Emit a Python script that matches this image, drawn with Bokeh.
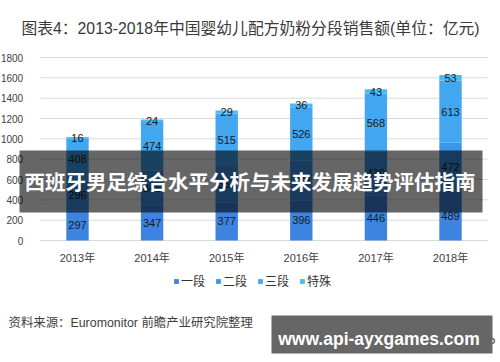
from bokeh.plotting import figure
from bokeh.models import (ColumnDataSource, LabelSet, Label, BoxAnnotation, Legend,
                          LegendItem, Range1d, FixedTicker, LinearAxis)
from bokeh.core.properties import value
from bokeh.embed import file_html
from bokeh.resources import INLINE

years = ["2013年", "2014年", "2015年", "2016年", "2017年", "2018年"]
seg1 = [297, 347, 377, 396, 446, 489]
seg2 = [296, 345, 357, 389, 430, 472]
seg3 = [408, 474, 515, 526, 568, 613]
special = [16, 24, 29, 36, 43, 53]
series_names = ["一段", "二段", "三段", "特殊"]
colors = ["#3C84DF", "#3D95E8", "#42A6F0", "#4DB9F6"]
y_ticks = [0, 200, 400, 600, 800, 1000, 1200, 1400, 1600, 1800]

CJK = "Liberation Sans, Noto Sans CJK SC"
n = len(years)
xs = list(range(n))

src = ColumnDataSource(dict(x=xs, s1=seg1, s2=seg2, s3=seg3, sp=special))

p = figure(width=500, height=362, title=None,
           x_range=Range1d(-1.032, 5.670), y_range=Range1d(-1200, 2360.7),
           x_axis_location=None, y_axis_location=None,
           output_backend="svg", toolbar_location=None, min_border=0)
p.outline_line_color = None
p.xgrid.visible = False
p.ygrid.visible = False

# gridlines spanning the category area
p.segment(x0=[-0.5] * len(y_ticks), x1=[n - 0.5] * len(y_ticks), y0=y_ticks, y1=y_ticks,
          line_color="#d9d9d9", line_width=1)

rs = p.vbar_stack(["s1", "s2", "s3", "sp"], x="x", width=0.3, color=colors,
                  line_color=None, source=src)

# y axis
yax = LinearAxis(ticker=FixedTicker(ticks=y_ticks), fixed_location=-0.5)
yax.axis_line_color = None
yax.major_tick_line_color = None
yax.minor_tick_line_color = None
yax.major_label_text_font = "Liberation Sans"
yax.major_label_text_font_size = "10px"
yax.major_label_text_color = "#404040"
yax.major_label_standoff = 11
p.add_layout(yax, "left")

# x axis
xax = LinearAxis(ticker=FixedTicker(ticks=xs), fixed_location=0,
                 major_label_overrides={i: y for i, y in zip(xs, years)})
xax.axis_line_color = None
xax.major_tick_line_color = None
xax.minor_tick_line_color = None
xax.major_label_text_font = CJK
xax.major_label_text_font_size = "11px"
xax.major_label_text_color = "#404040"
xax.major_label_standoff = 5
p.add_layout(xax, "below")

# data labels at segment centres
lx, ly, lt = [], [], []
for i in xs:
    base = 0
    for arr in (seg1, seg2, seg3, special):
        v = arr[i]
        lx.append(i)
        ly.append(base + v / 2)
        lt.append(str(v))
        base += v
lsrc = ColumnDataSource(dict(x=lx, y=ly, t=lt))
p.add_layout(LabelSet(x="x", y="y", text="t", source=lsrc, text_align="center",
                      text_baseline="middle", text_font_size="11px",
                      text_font=value("Liberation Sans"), text_color="#1a1a1a"))

items = [LegendItem(label=nm, renderers=[r]) for nm, r in zip(series_names, rs)]
leg = Legend(items=items, orientation="horizontal", location=(173, 73),
             glyph_width=6, glyph_height=6, label_standoff=2, spacing=10,
             label_text_font_size="12px", label_text_font=CJK, label_height=12,
             padding=0, margin=0, border_line_color=None, background_fill_alpha=0,
             label_text_color="#333333")
p.add_layout(leg, "center")

p.add_layout(Label(x=250, y=334, x_units="screen", y_units="screen",
                   text="图表4：2013-2018年中国婴幼儿配方奶粉分段销售额(单位：亿元)",
                   text_align="center", text_baseline="middle", text_font=CJK,
                   text_font_size="15.8px", text_color="#3a3a3a"))
p.add_layout(Label(x=8, y=40, x_units="screen", y_units="screen",
                   text="资料来源：Euromonitor 前瞻产业研究院整理",
                   text_align="left", text_baseline="middle", text_font=CJK,
                   text_font_size="12.4px", text_color="#404040"))

p.add_layout(BoxAnnotation(left=19, right=482, bottom=150, top=212,
                           left_units="screen", right_units="screen",
                           bottom_units="screen", top_units="screen",
                           fill_color="black", fill_alpha=0.6, line_color=None,
                           level="overlay"))
p.add_layout(Label(x=249.5, y=182, x_units="screen", y_units="screen",
                   text="西班牙男足综合水平分析与未来发展趋势评估指南",
                   text_align="center", text_baseline="middle",
                   text_font="Noto Sans CJK SC", text_font_style="bold",
                   text_font_size="20.5px", text_color="white", level="overlay"))

p.add_layout(Label(x=495, y=20, x_units="screen", y_units="screen",
                   text="前瞻经济学人APP", text_align="right", text_baseline="middle",
                   text_font=CJK, text_font_size="12px", text_color="#444444",
                   level="overlay"))
p.add_layout(BoxAnnotation(left=271, right=492, bottom=9, top=47,
                           left_units="screen", right_units="screen",
                           bottom_units="screen", top_units="screen",
                           fill_color="#666666", fill_alpha=1.0, line_color=None,
                           level="overlay"))
p.add_layout(Label(x=378.5, y=24, x_units="screen", y_units="screen",
                   text="www.api-ayxgames.com", text_align="center",
                   text_baseline="middle", text_font="Liberation Sans",
                   text_font_style="bold", text_font_size="17.5px", text_color="white",
                   level="overlay"))

open("out.html", "w").write(file_html(p, INLINE))
